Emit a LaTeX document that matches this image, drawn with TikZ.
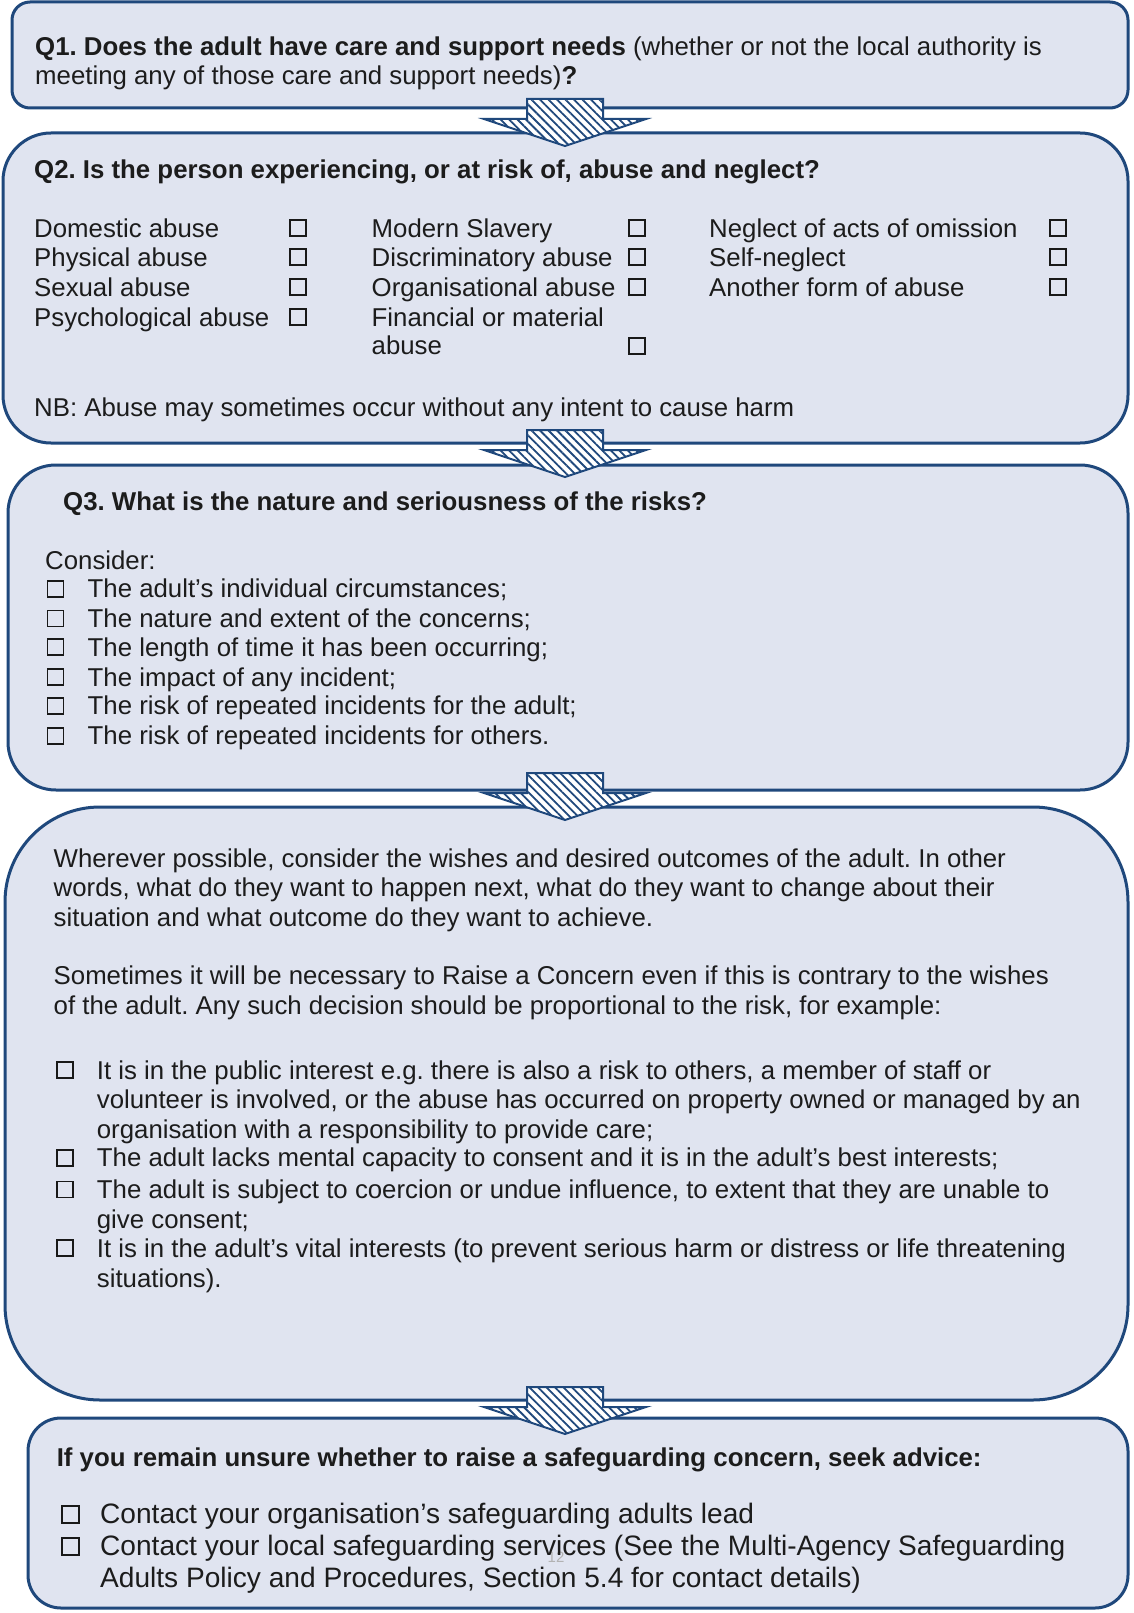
\documentclass[tikz,border=0pt]{standalone}
\usepackage{fontspec}
\setmainfont{Liberation Sans}
\usetikzlibrary{patterns.meta}
\definecolor{boxfill}{RGB}{224,228,240}
\definecolor{boxline}{RGB}{31,72,124}
\definecolor{txt}{RGB}{28,28,28}
\frenchspacing
\tikzset{
  panel/.style={draw=boxline, line width=3pt, fill=boxfill, inner sep=0pt, rectangle},
  tl/.style={anchor=base west, inner sep=0pt, text=txt, font=\fontsize{25.8}{29.4}\selectfont},
  bl/.style={anchor=base west, inner sep=0pt, text=txt, font=\fontsize{28.1}{32}\selectfont},
  cbox/.style={draw=black!90, line width=1.8pt, minimum size=16pt, inner sep=0pt, rectangle},
  hatch/.style={fill=white,
    postaction={pattern={Lines[angle=-45,distance=6pt,line width=1.8pt]}, pattern color=boxline},
    postaction={draw=boxline, line width=2pt, line join=miter}},
  barrow/.pic={
    \path[hatch] (-38,0) -- (38,0) -- (38,20) -- (81,20) -- (0,47) -- (-81,20) -- (-38,20) -- cycle;
  }
}
\begin{document}
\begin{tikzpicture}[x=1pt,y=-1pt]
\useasboundingbox[fill=white] (0,0) rectangle (1133,1613);

% panels
\node[panel, rounded corners=18pt, minimum width=1116pt, minimum height=106pt] (q1) at (570,55) {};
\node[panel, rounded corners=48pt, minimum width=1125pt, minimum height=310pt] (q2) at (565.5,288) {};
\node[panel, rounded corners=48pt, minimum width=1120pt, minimum height=325pt] (q3) at (568,627.5) {};
\node[panel, rounded corners=95pt, minimum width=1123pt, minimum height=593pt] (q4) at (566.5,1103.5) {};
\node[panel, rounded corners=33pt, minimum width=1100pt, minimum height=190pt] (q5) at (578,1513) {};

% block arrows
\pic (a1) at (565,99) {barrow};
\pic (a2) at (565,430) {barrow};
\pic (a3) at (565,773) {barrow};
\pic (a4) at (565,1387) {barrow};

% page number (faint)
\node[anchor=base, inner sep=0pt, text=black!30, font=\fontsize{15}{15}\selectfont] (pg) at (556,1562) {12};

% Q1
\node[tl] (q1a) at (35,56) {\textbf{Q1. Does the adult have care and support needs} (whether or not the local authority is};
\node[tl] (q1b) at (35,85) {meeting any of those care and support needs)\textbf{?}};

% Q2
\node[tl] (q2h) at (34,179) {\textbf{Q2. Is the person experiencing, or at risk of, abuse and neglect?}};
\node[tl] (c1r1) at (34,237.4) {Domestic abuse};
\node[tl] (c1r2) at (34,266.3) {Physical abuse};
\node[tl] (c1r3) at (34,296.1) {Sexual abuse};
\node[tl] (c1r4) at (34,326) {Psychological abuse};
\node[tl] (c2r1) at (371.5,237.4) {Modern Slavery};
\node[tl] (c2r2) at (371.5,266.3) {Discriminatory abuse};
\node[tl] (c2r3) at (371.5,296.1) {Organisational abuse};
\node[tl] (c2r4) at (371.5,326) {Financial or material};
\node[tl] (c2r5) at (371.5,354.8) {abuse};
\node[tl] (c3r1) at (709,237.4) {Neglect of acts of omission};
\node[tl] (c3r2) at (709,266.3) {Self-neglect};
\node[tl] (c3r3) at (709,296.1) {Another form of abuse};
\foreach \n/\y in {1/237.4,2/266.3,3/296.1,4/326}{
  \node[cbox] (k1-\n) at (298,\y-9) {};
}
\foreach \n/\y in {1/237.4,2/266.3,3/296.1,5/354.8}{
  \node[cbox] (k2-\n) at (637,\y-9) {};
}
\foreach \n/\y in {1/237.4,2/266.3,3/296.1}{
  \node[cbox] (k3-\n) at (1058,\y-9) {};
}
\node[tl] (nb) at (34,416.5) {NB: Abuse may sometimes occur without any intent to cause harm};

% Q3
\node[tl] (q3h) at (63,510) {\textbf{Q3. What is the nature and seriousness of the risks?}};
\node[tl] (q3c) at (45,569) {Consider:};
\foreach \n/\y/\t in {1/597.6/{The adult’s individual circumstances;},
                      2/627.4/{The nature and extent of the concerns;},
                      3/656.2/{The length of time it has been occurring;},
                      4/686.1/{The impact of any incident;},
                      5/714.9/{The risk of repeated incidents for the adult;},
                      6/744.7/{The risk of repeated incidents for others.}}{
  \node[cbox] (q3k\n) at (55.5,\y-9) {};
  \node[tl] (q3t\n) at (87.5,\y) {\t};
}

% Q4 box
\node[tl] (p1) at (53.5,867) {Wherever possible, consider the wishes and desired outcomes of the adult. In other};
\node[tl] (p2) at (53.5,896) {words, what do they want to happen next, what do they want to change about their};
\node[tl] (p3) at (53.5,926) {situation and what outcome do they want to achieve.};
\node[tl] (p4) at (53.5,984.5) {Sometimes it will be necessary to Raise a Concern even if this is contrary to the wishes};
\node[tl] (p5) at (53.5,1014) {of the adult. Any such decision should be proportional to the risk, for example:};
\node[tl] (i1) at (96.7,1079) {It is in the public interest e.g. there is also a risk to others, a member of staff or};
\node[tl] (i2) at (96.7,1108) {volunteer is involved, or the abuse has occurred on property owned or managed by an};
\node[tl] (i3) at (96.7,1138) {organisation with a responsibility to provide care;};
\node[tl] (i4) at (96.7,1166.6) {The adult lacks mental capacity to consent and it is in the adult’s best interests;};
\node[tl] (i5) at (96.7,1198.5) {The adult is subject to coercion or undue influence, to extent that they are unable to};
\node[tl] (i6) at (96.7,1228.4) {give consent;};
\node[tl] (i7) at (96.7,1257.2) {It is in the adult’s vital interests (to prevent serious harm or distress or life threatening};
\node[tl] (i8) at (96.7,1287) {situations).};
\foreach \n/\y in {1/1079,4/1166.6,5/1198.5,7/1257.2}{
  \node[cbox] (ik\n) at (65,\y-9) {};
}

% Q5
\node[tl] (q5h) at (56.6,1466) {\textbf{If you remain unsure whether to raise a safeguarding concern, seek advice:}};
\node[bl] (q5a) at (100,1523) {Contact your organisation’s safeguarding adults lead};
\node[bl] (q5b) at (100,1555) {Contact your local safeguarding services (See the Multi-Agency Safeguarding};
\node[bl] (q5c) at (100,1587) {Adults Policy and Procedures, Section 5.4 for contact details)};
\node[cbox, minimum size=17pt, line width=2pt] (q5k1) at (70,1514) {};
\node[cbox, minimum size=17pt, line width=2pt] (q5k2) at (70,1546) {};
\end{tikzpicture}
\end{document}
